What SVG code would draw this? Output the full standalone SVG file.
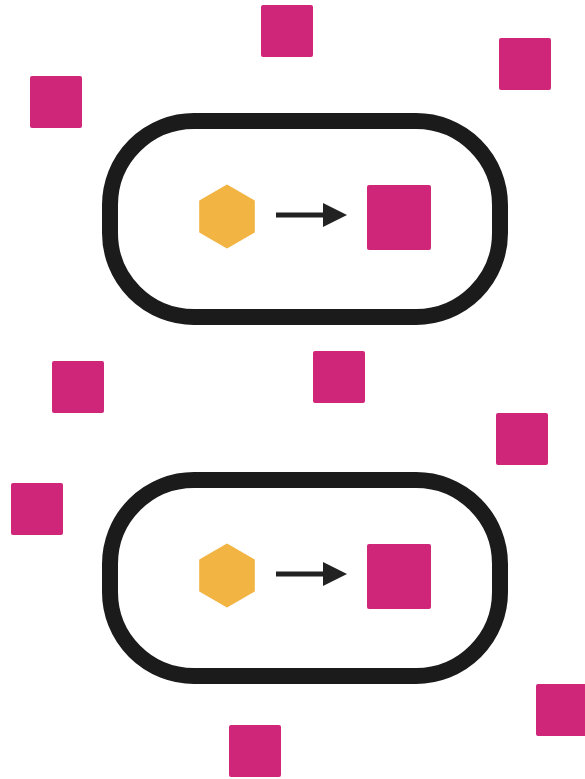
<svg xmlns="http://www.w3.org/2000/svg" width="585" height="779" viewBox="0 0 585 779">
<style>
.cell{fill:none;stroke:#1b1b1b;stroke-width:16}
.sq{fill:#cf267a}
.hex{fill:#f2b443;stroke:#f2b443;stroke-width:2;stroke-linejoin:round}
.arr{stroke:#222;stroke-width:5;fill:none}
</style>
<defs>
<marker id="ah" markerWidth="24" markerHeight="24" viewBox="0 0 24 24" refX="2" refY="12" markerUnits="userSpaceOnUse" orient="auto">
<path d="M0,0 L24,12 L0,24 Z" fill="#222"/>
</marker>
</defs>
<rect width="585" height="779" fill="#fff"/>
<g id="cell1">
<rect class="cell" x="110" y="121" width="390" height="196" rx="84"/>
<polygon class="hex" points="227,185.5 253.8,201 253.8,232 227,247.5 200.2,232 200.2,201"/>
<rect class="sq" x="367" y="185" width="64" height="65" rx="2"/>
</g>
<g id="cell2">
<rect class="cell" x="110" y="480" width="390" height="196" rx="84"/>
<polygon class="hex" points="227,544.5 253.8,560 253.8,591 227,606.5 200.2,591 200.2,560"/>
<rect class="sq" x="367" y="544" width="64" height="65" rx="2"/>
</g>
<g id="connectors">
<line class="arr" x1="276" y1="215" x2="325" y2="215" marker-end="url(#ah)"/>
<line class="arr" x1="276" y1="574" x2="325" y2="574" marker-end="url(#ah)"/>
</g>
<g id="free">
<rect class="sq" x="261" y="5" width="52" height="52" rx="2"/>
<rect class="sq" x="30" y="76" width="52" height="52" rx="2"/>
<rect class="sq" x="499" y="38" width="52" height="52" rx="2"/>
<rect class="sq" x="52" y="361" width="52" height="52" rx="2"/>
<rect class="sq" x="313" y="351" width="52" height="52" rx="2"/>
<rect class="sq" x="496" y="413" width="52" height="52" rx="2"/>
<rect class="sq" x="11" y="483" width="52" height="52" rx="2"/>
<rect class="sq" x="229" y="725" width="52" height="52" rx="2"/>
<rect class="sq" x="536" y="684" width="52" height="52" rx="2"/>
</g>
</svg>
